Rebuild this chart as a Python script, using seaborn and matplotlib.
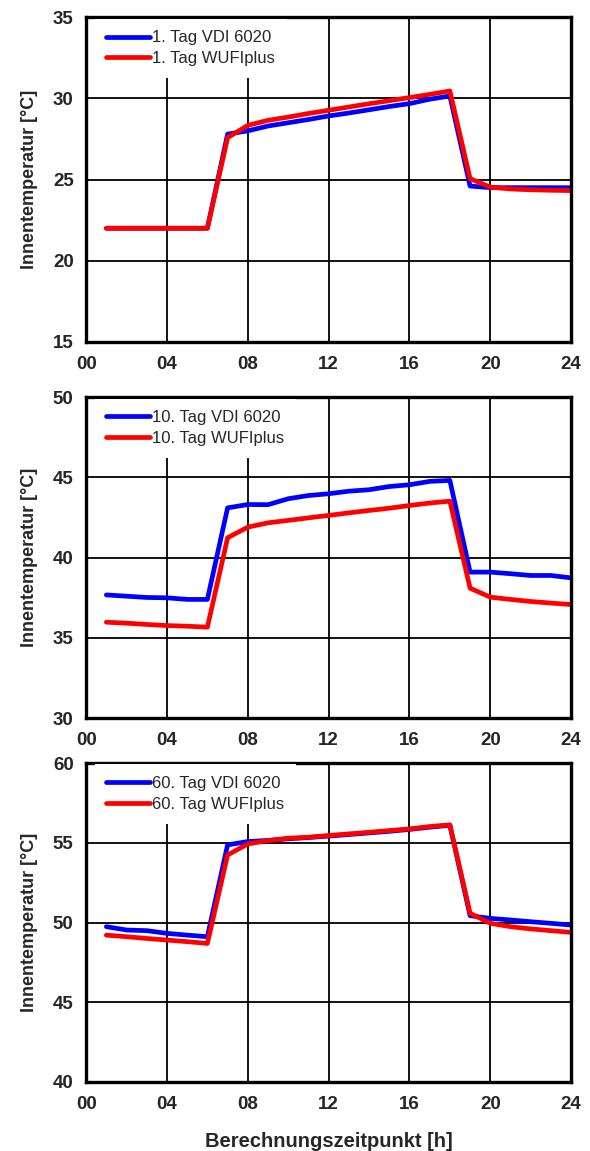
import numpy as np
import matplotlib
matplotlib.use("Agg")
import matplotlib.pyplot as plt
import seaborn as sns
import pandas as pd

hours = list(range(1, 25))

# 1. Tag
tag1_vdi = [22, 22, 22, 22, 22, 22, 27.8, 28.0, 28.3, 28.5, 28.7, 28.92, 29.1, 29.3,
            29.5, 29.68, 29.95, 30.15, 24.6, 24.5, 24.5, 24.5, 24.5, 24.5]
tag1_wufi = [22, 22, 22, 22, 22, 22, 27.58, 28.34, 28.65, 28.85, 29.07, 29.27, 29.47, 29.67,
             29.86, 30.05, 30.25, 30.46, 25.06, 24.53, 24.42, 24.37, 24.34, 24.32]
# 10. Tag
tag10_vdi = [37.68, 37.6, 37.52, 37.5, 37.4, 37.4, 43.1, 43.31, 43.3, 43.67, 43.87, 43.98,
             44.14, 44.23, 44.43, 44.54, 44.75, 44.81, 39.1, 39.1, 39.0, 38.89, 38.89, 38.74]
tag10_wufi = [35.98, 35.92, 35.84, 35.77, 35.73, 35.67, 41.24, 41.9, 42.17, 42.32, 42.48, 42.63,
              42.79, 42.94, 43.08, 43.25, 43.4, 43.52, 38.1, 37.54, 37.4, 37.27, 37.17, 37.08]
# 60. Tag
tag60_vdi = [49.74, 49.53, 49.49, 49.32, 49.21, 49.11, 54.87, 55.08, 55.15, 55.25, 55.33, 55.42,
             55.52, 55.62, 55.72, 55.84, 55.98, 56.1, 50.43, 50.26, 50.16, 50.05, 49.95, 49.84]
tag60_wufi = [49.21, 49.11, 49.0, 48.9, 48.8, 48.69, 54.24, 54.93, 55.14, 55.29, 55.35, 55.46,
              55.56, 55.66, 55.77, 55.87, 56.02, 56.13, 50.58, 49.95, 49.74, 49.6, 49.49, 49.38]

xticks = [0, 4, 8, 12, 16, 20, 24]
xticklabels = ["00", "04", "08", "12", "16", "20", "24"]

panels = [
    ("1. Tag", tag1_vdi, tag1_wufi, (15, 35)),
    ("10. Tag", tag10_vdi, tag10_wufi, (30, 50)),
    ("60. Tag", tag60_vdi, tag60_wufi, (40, 60)),
]

sns.set_style("white")
plt.rcParams['font.family'] = ['Liberation Sans', 'DejaVu Sans']

fig = plt.figure(figsize=(5.9, 11.51), dpi=100)
boxes = [(0.703, 0.985), (0.376, 0.655), (0.060, 0.337)]

for (name, vdi, wufi, ylim), (b, t) in zip(panels, boxes):
    ax = fig.add_axes([0.146, b, 0.968 - 0.146, t - b])
    sns.lineplot(x=hours, y=vdi, color="#0000ff", lw=3.4, label=name + " VDI 6020", ax=ax)
    sns.lineplot(x=hours, y=wufi, color="#ff0000", lw=3.4, label=name + " WUFIplus", ax=ax)
    ax.set_xlim(0, 24)
    ax.set_ylim(*ylim)
    ax.set_xticks(xticks)
    ax.set_xticklabels(xticklabels)
    ax.set_yticks(np.arange(ylim[0], ylim[1] + 1, 5))
    ax.set_axisbelow(True)
    ax.grid(True, color="black", lw=1.3)
    for s in ax.spines.values():
        s.set_color("black")
        s.set_linewidth(2.4)
    ax.tick_params(axis="y", length=0, labelsize=13.5, pad=9)
    ax.tick_params(axis="x", length=0, labelsize=13.5, pad=10)
    for lab in ax.get_xticklabels() + ax.get_yticklabels():
        lab.set_fontweight("bold")
    ax.set_ylabel("Innentemperatur [°C]", fontsize=13, fontweight="bold", labelpad=11)
    leg = ax.legend(loc="upper left", bbox_to_anchor=(0.028, 0.98), fontsize=12,
                    frameon=True, framealpha=1, facecolor="white", edgecolor="none",
                    handlelength=2.6, handletextpad=0.15, borderaxespad=0,
                    labelspacing=0.35)
    leg.get_frame().set_boxstyle("square", pad=0.3)

fig.text(0.557, 0.0085, "Berechnungszeitpunkt [h]", ha="center", va="center",
         fontsize=14.5, fontweight="bold")

fig.savefig("out.png", dpi=100)
